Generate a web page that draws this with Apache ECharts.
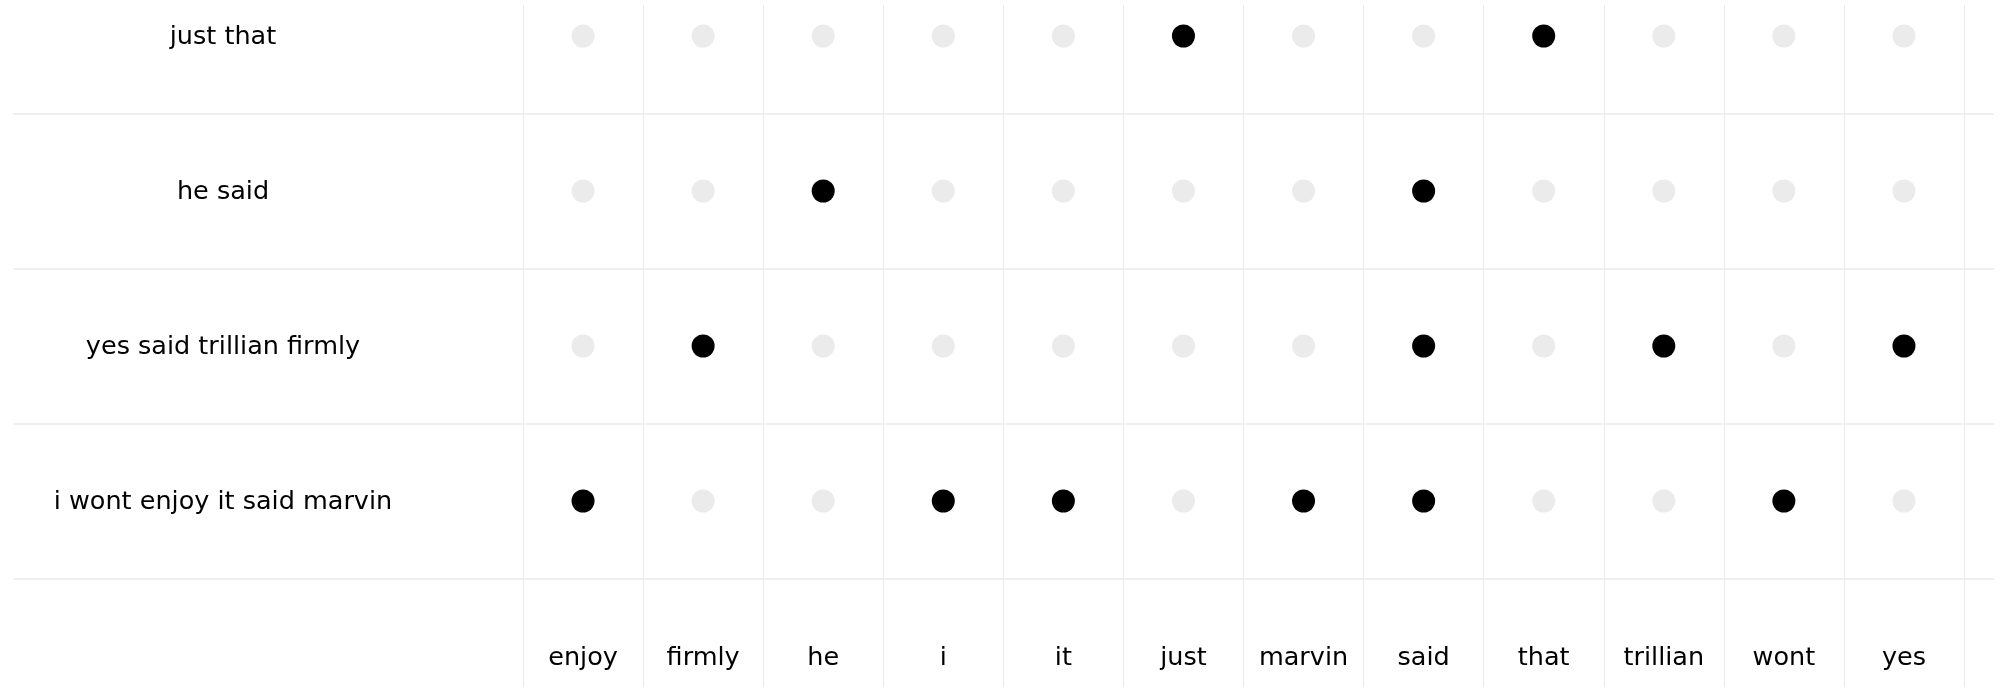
<!DOCTYPE html>
<html>
<head>
<meta charset="utf-8">
<script src="https://cdn.jsdelivr.net/npm/echarts@6/dist/echarts.min.js"></script>
<style>
html,body{margin:0;padding:0;background:#fff;}
#chart{width:2000px;height:700px;}
</style>
</head>
<body>
<div id="chart"></div>
<script>
// Column words (vocabulary)
const words = ['enjoy','firmly','he','i','it','just','marvin','said','that','trillian','wont','yes'];
// Sentences, listed bottom row to top row
const sentences = ['i wont enjoy it said marvin','yes said trillian firmly','he said','just that'];
// Presence of each word in each sentence (1 = present)
const presenceIWont   = [1,0,0,1,1,0,1,1,0,0,1,0];
const presenceYesSaid = [0,1,0,0,0,0,0,1,0,1,0,1];
const presenceHeSaid  = [0,0,1,0,0,0,0,1,0,0,0,0];
const presenceJustThat= [0,0,0,0,0,1,0,0,1,0,0,0];
const presenceRows = [presenceIWont, presenceYesSaid, presenceHeSaid, presenceJustThat];

// y categories: an empty bottom row holds the column labels
const rowCats = [''].concat(sentences);

const dotData = [];
presenceRows.forEach((row, r) => {
  row.forEach((v, c) => {
    dotData.push({ value: [c, r + 1, v], itemStyle: { color: v ? '#000000' : '#ebebeb', opacity: 1 } });
  });
});

const FONT = 'DejaVu Sans';
const FS = 25.5;
const chart = echarts.init(document.getElementById('chart'), null, { renderer: 'canvas' });
chart.setOption({
  animation: false,
  backgroundColor: '#ffffff',
  grid: [
    // A: dots
    { left: 523, width: 1441, top: -41.5, height: 775, containLabel: false, outerBoundsMode: 'none' },
    // B: horizontal rules + row labels
    { left: 13, right: 6, top: -41.5, height: 775, containLabel: false, outerBoundsMode: 'none' },
    // C: vertical rules + column labels
    { left: 523, width: 1441, top: 5, height: 682, containLabel: false, outerBoundsMode: 'none' }
  ],
  xAxis: [
    { gridIndex: 0, type: 'category', data: words, boundaryGap: true, show: false },
    { gridIndex: 1, type: 'value', min: 0, max: 1, show: false },
    { gridIndex: 2, type: 'category', data: words, boundaryGap: true, position: 'bottom',
      axisLine: { show: false }, axisTick: { show: false },
      splitLine: { show: true, interval: 0, lineStyle: { color: '#ebebeb', width: 1 } },
      axisLabel: { show: true, interval: 0, inside: true, margin: 29, verticalAlign: 'middle',
        color: '#000000', fontFamily: FONT, fontSize: FS } }
  ],
  yAxis: [
    { gridIndex: 0, type: 'category', data: rowCats, boundaryGap: true, show: false },
    { gridIndex: 1, type: 'category', data: rowCats, boundaryGap: true, position: 'left',
      axisLine: { show: false }, axisTick: { show: false },
      splitLine: { show: true, interval: 0, lineStyle: { color: '#f0f0f0', width: 2 } },
      axisLabel: { show: true, interval: 0, inside: true, margin: 210, align: 'center', verticalAlign: 'middle',
        formatter: function (v) { return v ? '{r|' + v + '}' : ''; },
        rich: { r: { fontFamily: FONT, fontSize: FS, color: '#000000', lineHeight: FS + 4, verticalAlign: 'bottom' } },
        color: '#000000', fontFamily: FONT, fontSize: FS } },
    { gridIndex: 2, type: 'value', min: 0, max: 1, show: false }
  ],
  series: [
    { type: 'scatter', xAxisIndex: 0, yAxisIndex: 0, symbol: 'circle', symbolSize: 23,
      itemStyle: { opacity: 1 }, data: dotData, z: 5, silent: true }
  ]
});
</script>
</body>
</html>
